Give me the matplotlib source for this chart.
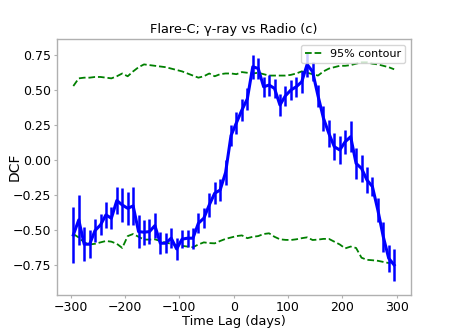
import matplotlib
matplotlib.use("Agg")
import matplotlib.pyplot as plt
import numpy as np

lags = list(range(-295, 300, 10))

dcf = [-0.537, -0.429, -0.603, -0.603, -0.505, -0.465, -0.393, -0.417, -0.29, -0.322,
       -0.346, -0.329, -0.513, -0.517, -0.513, -0.47, -0.596, -0.596, -0.56, -0.637,
       -0.567, -0.56, -0.56, -0.453, -0.417, -0.322, -0.238, -0.215, -0.09, 0.175,
       0.267, 0.358, 0.438, 0.668, 0.656, 0.525, 0.537, 0.513, 0.394, 0.46,
       0.501, 0.525, 0.56, 0.685, 0.633, 0.46, 0.3, 0.19, 0.095, 0.072,
       0.131, 0.167, -0.024, -0.06, -0.143, -0.19, -0.358, -0.549, -0.704, -0.752]

err = [0.20, 0.18, 0.12, 0.10, 0.08, 0.075, 0.095, 0.08, 0.095, 0.12,
       0.12, 0.135, 0.12, 0.09, 0.09, 0.09, 0.078, 0.072, 0.072, 0.078,
       0.063, 0.06, 0.075, 0.072, 0.072, 0.083, 0.08, 0.08, 0.09, 0.078,
       0.078, 0.078, 0.078, 0.084, 0.072, 0.07, 0.075, 0.07, 0.08, 0.07,
       0.07, 0.07, 0.08, 0.09, 0.07, 0.08, 0.09, 0.095, 0.095, 0.1,
       0.085, 0.11, 0.113, 0.095, 0.095, 0.07, 0.083, 0.107, 0.095, 0.113]

upper = [0.53, 0.585, 0.59, 0.59, 0.595, 0.595, 0.59, 0.585, 0.60, 0.62,
         0.60, 0.635, 0.665, 0.685, 0.68, 0.675, 0.67, 0.665, 0.655, 0.645,
         0.635, 0.62, 0.605, 0.59, 0.60, 0.62, 0.60, 0.615, 0.62, 0.62,
         0.615, 0.63, 0.625, 0.62, 0.625, 0.615, 0.605, 0.605, 0.605, 0.605,
         0.61, 0.62, 0.635, 0.625, 0.615, 0.605, 0.635, 0.655, 0.665, 0.675,
         0.675, 0.68, 0.69, 0.70, 0.70, 0.69, 0.685, 0.675, 0.665, 0.65]

lower = [-0.53, -0.555, -0.59, -0.605, -0.60, -0.59, -0.58, -0.585, -0.60, -0.63,
         -0.545, -0.53, -0.55, -0.57, -0.57, -0.568, -0.58, -0.592, -0.60, -0.61,
         -0.615, -0.62, -0.625, -0.605, -0.59, -0.595, -0.597, -0.58, -0.565, -0.555,
         -0.545, -0.54, -0.56, -0.55, -0.545, -0.53, -0.525, -0.55, -0.568, -0.572,
         -0.573, -0.568, -0.56, -0.554, -0.573, -0.57, -0.565, -0.565, -0.585, -0.605,
         -0.633, -0.62, -0.63, -0.70, -0.715, -0.718, -0.722, -0.73, -0.738, -0.723]

title = "Flare-C; γ-ray vs Radio (c)"
xlabel = "Time Lag (days)"
ylabel = "DCF"
legend_label = "95% contour"
xticks = [-300, -200, -100, 0, 100, 200, 300]
yticks = [-0.75, -0.5, -0.25, 0.0, 0.25, 0.5, 0.75]

fig = plt.figure(figsize=(4.57, 3.32), dpi=100)
ax = fig.add_axes([57/457, 37/332, 354/457, 256/332])

ax.errorbar(lags, dcf, yerr=err, color='b', lw=2.2, elinewidth=1.8, capsize=0, zorder=3)
ax.plot(lags, upper, '--', color='g', lw=1.3, label=legend_label, zorder=2)
ax.plot(lags, lower, '--', color='g', lw=1.3, zorder=2)

ax.set_xlim(-325, 326)
ax.set_ylim(-0.967, 0.867)
ax.set_xticks(xticks)
ax.set_yticks(yticks)
ax.set_xticklabels([f"{t}".replace('-', '\u2212') for t in xticks])
ax.set_yticklabels([f"{t:.2f}".replace('-', '\u2212') for t in yticks])

for s in ax.spines.values():
    s.set_color('#b0b0b0')
    s.set_linewidth(1.0)
ax.tick_params(colors='#b0b0b0', labelcolor='black', labelsize=9, length=2, width=0.8, pad=2)

ax.set_title(title, fontsize=9.3, pad=4)
ax.set_xlabel(xlabel, fontsize=9.3, labelpad=1)
ax.set_ylabel(ylabel, fontsize=10)
ax.yaxis.set_label_coords(-0.1, 0.5)

leg = ax.legend(loc='upper right', fontsize=8, framealpha=0.8, handlelength=1.6,
                borderpad=0.4, handletextpad=0.6)

fig.savefig("out.png", dpi=100)
